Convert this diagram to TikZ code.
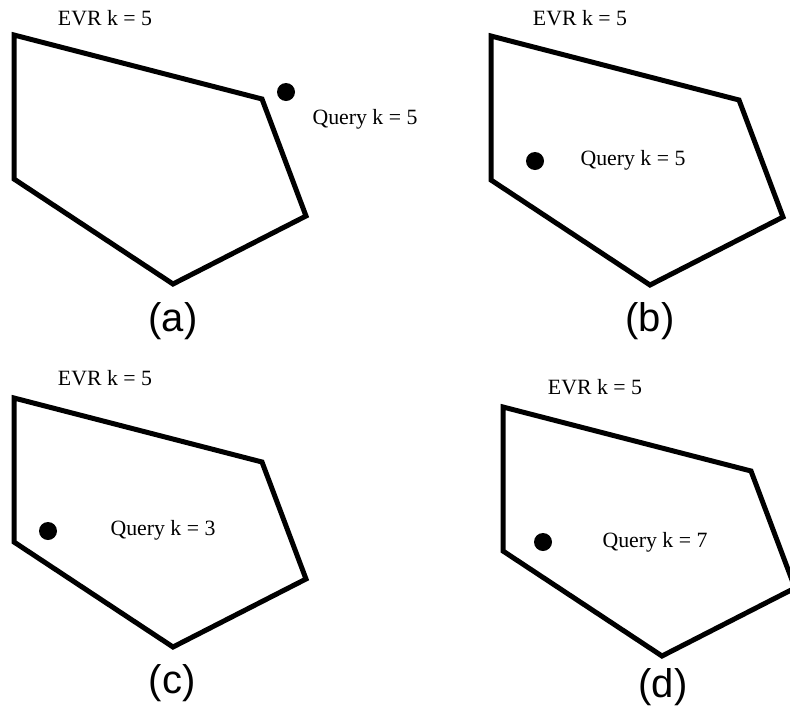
\documentclass[tikz,border=0pt]{standalone}
\usepackage{fontspec}
\setmainfont{Liberation Serif}
\newfontfamily\capfont{Liberation Sans}

\begin{document}
\begin{tikzpicture}[x=1pt,y=-1pt,line cap=round,line join=miter,every node/.style={inner sep=1pt},
  region/.style={line width=5pt},
  qdot/.style={circle,fill=black,minimum size=18pt,inner sep=0pt},
  lbl/.style={font=\fontsize{21.8}{25}\selectfont},
  panelcap/.style={font=\capfont\fontsize{40}{46}\selectfont}]
  \useasboundingbox (0,0) rectangle (790,710);
  % the same region in all four panels, only shifted
  \foreach \sx/\sy in {0/0,477/1,0/363,489/372} {
    \draw[region,shift={(\sx,\sy)}] (14,35) -- (262,99) -- (306,216) -- (173,284) -- (14,179) -- cycle;
  }
  % (a)
  \node[lbl] (evrA) at (105,18) {EVR k = 5};
  \node[qdot] (dotA) at (286,92) {};
  \node[lbl] (queryA) at (365,119) {Query k = 5};
  \node[panelcap] (capA) at (173,321) {(a)};
  % (b)
  \node[lbl] (evrB) at (580,18) {EVR k = 5};
  \node[qdot] (dotB) at (535,161) {};
  \node[lbl] (queryB) at (633,160) {Query k = 5};
  \node[panelcap] (capB) at (650,321) {(b)};
  % (c)
  \node[lbl] (evrC) at (105,378) {EVR k = 5};
  \node[qdot] (dotC) at (48,531) {};
  \node[lbl] (queryC) at (163,530) {Query k = 3};
  \node[panelcap] (capC) at (172,683) {(c)};
  % (d)
  \node[lbl] (evrD) at (595,387) {EVR k = 5};
  \node[qdot] (dotD) at (543,542) {};
  \node[lbl] (queryD) at (655,542) {Query k = 7};
  \node[panelcap] (capD) at (663,687) {(d)};
\end{tikzpicture}
\end{document}
